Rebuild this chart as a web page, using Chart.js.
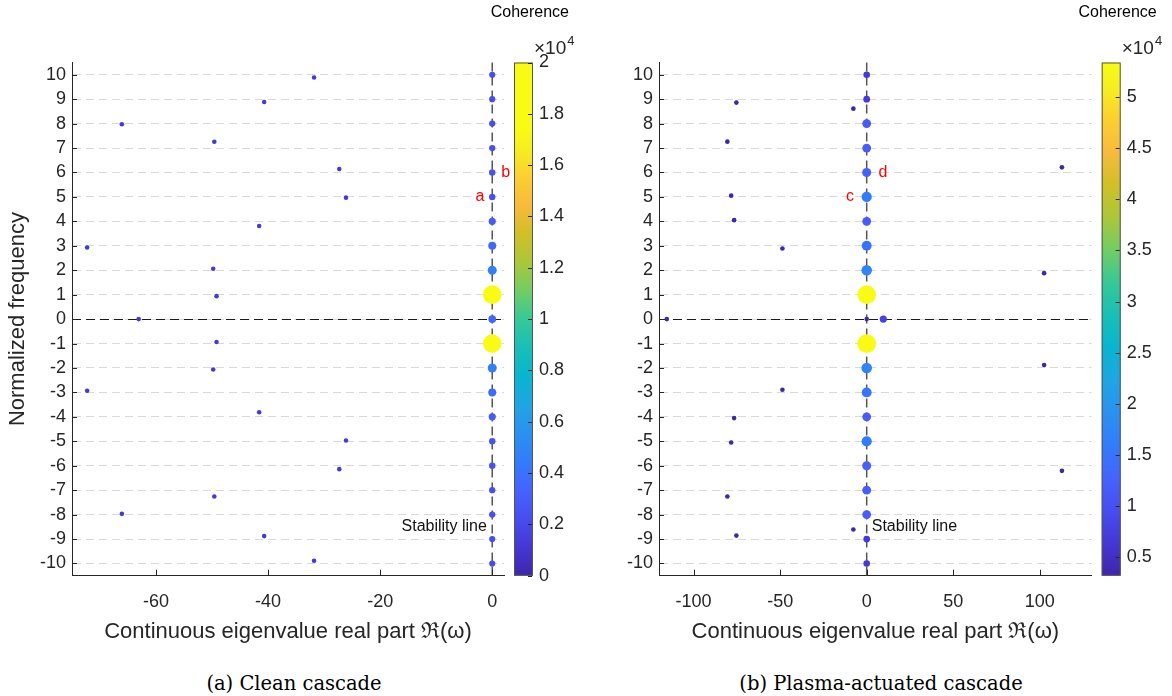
<!DOCTYPE html>
<html>
<head>
<meta charset="utf-8">
<script src="https://cdn.jsdelivr.net/npm/chart.js@4.4.1/dist/chart.umd.min.js"></script>
<style>
  body { margin: 0; background: #fff; }
  #wrap { position: relative; width: 1172px; height: 696px; overflow: hidden; }
  canvas { position: absolute; top: 0; }
  .cap { position: absolute; top: 672px; font-family: "DejaVu Serif", serif; font-size: 19.5px; color: #000;
         transform: translateX(-50%); white-space: nowrap; }
</style>
</head>
<body>
<div id="wrap">
  <canvas id="left" width="590" height="650" style="left:0"></canvas>
  <canvas id="right" width="582" height="650" style="left:590px"></canvas>
  <div class="cap" style="left:294px">(a) Clean cascade</div>
  <div class="cap" style="left:881px">(b) Plasma-actuated cascade</div>
</div>
<script>
// shared tick labels
const Y_TICKS = [-10, -9, -8, -7, -6, -5, -4, -3, -2, -1, 0, 1, 2, 3, 4, 5, 6, 7, 8, 9, 10];

// (a) clean cascade -- coherence in units of 1e4
const A_X_TICKS = [-60, -40, -20, 0];
const A_CB_TICKS = [0, 0.2, 0.4, 0.6, 0.8, 1, 1.2, 1.4, 1.6, 1.8, 2];
const A_X = [
  0, 0, 0, 0, 0, 0, 0, 0, 0, 0, 0, 0, 0, 0, 0, 0, 0, 0, 0, 0, 0,
  -31.8, -40.7, -66.1, -49.6, -27.3, -26.1, -41.6, -72.3, -49.8, -49.2, -63.1,
  -49.2, -49.8, -72.3, -41.6, -26.1, -27.3, -49.6, -66.1, -40.7, -31.8
];
const A_Y = [
  10, 9, 8, 7, 6, 5, 4, 3, 2, 1, 0, -1, -2, -3, -4, -5, -6, -7, -8, -9, -10,
  9.89, 8.88, 7.97, 7.26, 6.14, 4.97, 3.81, 2.93, 2.06, 0.94, 0,
  -0.94, -2.06, -2.93, -3.81, -4.97, -6.14, -7.26, -7.97, -8.88, -9.89
];
const A_C = [
  0.22, 0.22, 0.23, 0.23, 0.24, 0.24, 0.30, 0.37, 0.47, 2.0, 0.35, 2.0, 0.47, 0.37, 0.30, 0.24, 0.24, 0.23, 0.23, 0.22, 0.22,
  0.12, 0.12, 0.12, 0.12, 0.12, 0.12, 0.12, 0.12, 0.12, 0.12, 0.12,
  0.12, 0.12, 0.12, 0.12, 0.12, 0.12, 0.12, 0.12, 0.12, 0.12
];

// (b) plasma-actuated cascade
const B_X_TICKS = [-100, -50, 0, 50, 100];
const B_CB_TICKS = [0.5, 1, 1.5, 2, 2.5, 3, 3.5, 4, 4.5, 5];
const B_X = [
  0, 0, 0, 0, 0, 0, 0, 0, 0, 0, 0, 0, 0, 0, 0, 0, 0, 0, 0, 0, 0, 9.6,
  -75.3, -7.7, -80.5, 112.8, -78.3, -76.6, -48.7, 102.5, -115.5,
  102.5, -48.7, -76.6, -78.3, 112.8, -80.5, -7.7, -75.3
];
const B_Y = [
  10, 9, 8, 7, 6, 5, 4, 3, 2, 1, 0, -1, -2, -3, -4, -5, -6, -7, -8, -9, -10, 0,
  8.86, 8.61, 7.26, 6.21, 5.05, 4.05, 2.89, 1.88, 0,
  -1.88, -2.89, -4.05, -5.05, -6.21, -7.26, -8.61, -8.86
];
const B_C = [
  0.67, 0.70, 1.19, 1.19, 1.25, 1.60, 1.19, 1.50, 1.72, 5.34, 0.32, 5.34, 1.72, 1.50, 1.19, 1.60, 1.25, 1.19, 1.19, 0.70, 0.67, 0.80,
  0.33, 0.33, 0.33, 0.33, 0.33, 0.33, 0.33, 0.33, 0.33,
  0.33, 0.33, 0.33, 0.33, 0.33, 0.33, 0.33, 0.33
];

// parula colormap stops [t, r, g, b]
const PARULA = [
  [0 / 63, 62, 38, 168], [4 / 63, 69, 55, 213], [8 / 63, 72, 77, 240], [12 / 63, 69, 99, 253],
  [16 / 63, 50, 124, 252], [20 / 63, 43, 145, 239], [24 / 63, 32, 165, 227], [28 / 63, 8, 181, 208],
  [32 / 63, 25, 191, 182], [36 / 63, 55, 200, 151], [40 / 63, 114, 205, 100], [44 / 63, 171, 199, 57],
  [48 / 63, 209, 191, 39], [52 / 63, 248, 186, 61], [56 / 63, 252, 207, 48], [60 / 63, 246, 239, 32],
  [63 / 63, 249, 251, 21]
];

function parula(t) {
  t = Math.min(1, Math.max(0, t));
  for (let i = 1; i < PARULA.length; i++) {
    if (t <= PARULA[i][0]) {
      const p = PARULA[i - 1], q = PARULA[i];
      const f = (t - p[0]) / (q[0] - p[0]);
      return 'rgb(' + [1, 2, 3].map(k => Math.round(p[k] + f * (q[k] - p[k]))).join(',') + ')';
    }
  }
  return 'rgb(249,251,21)';
}

const FONT = '"Liberation Sans", Arial, sans-serif';
const INK = '#262626';

const decor = {
  id: 'decor',
  beforeDatasetsDraw(chart) {
    const { ctx, chartArea: a, scales: { x, y } } = chart;
    ctx.save();
    const y0 = Math.round(y.getPixelForValue(0)) + 0.5;
    ctx.setLineDash([9, 5]);
    ctx.strokeStyle = '#1a1a1a';
    ctx.lineWidth = 1;
    ctx.beginPath(); ctx.moveTo(a.left, y0); ctx.lineTo(a.right, y0); ctx.stroke();
    const x0 = x.getPixelForValue(0);
    ctx.strokeStyle = '#555';
    ctx.lineWidth = 1.5;
    ctx.beginPath(); ctx.moveTo(x0, a.top); ctx.lineTo(x0, a.bottom); ctx.stroke();
    ctx.restore();
  },
  afterDraw(chart, args, o) {
    const { ctx, chartArea: a, scales: { x, y, cb } } = chart;
    ctx.save();
    // inward tick marks
    ctx.strokeStyle = INK;
    ctx.lineWidth = 1;
    ctx.beginPath();
    x.ticks.forEach(t => {
      const px = Math.round(x.getPixelForValue(t.value)) + 0.5;
      ctx.moveTo(px, a.bottom); ctx.lineTo(px, a.bottom - 6);
    });
    y.ticks.forEach(t => {
      const py = Math.round(y.getPixelForValue(t.value)) + 0.5;
      ctx.moveTo(a.left, py); ctx.lineTo(a.left + 5, py);
    });
    ctx.stroke();

    // colorbar (colour limits may be narrower than the bar's axis)
    const bx = a.right + 10, bw = 19;
    const g = ctx.createLinearGradient(0, a.bottom, 0, a.top);
    const span = cb.max - cb.min;
    PARULA.forEach(s => {
      const pos = (o.lo + s[0] * (o.hi - o.lo) - cb.min) / span;
      if (pos >= 0 && pos <= 1) g.addColorStop(pos, `rgb(${s[1]},${s[2]},${s[3]})`);
    });
    if (o.hi < cb.max) g.addColorStop(1, 'rgb(249,251,21)');
    ctx.fillStyle = g;
    ctx.fillRect(bx, a.top, bw, a.bottom - a.top);
    ctx.strokeStyle = '#555';
    ctx.strokeRect(bx + 0.5, a.top + 0.5, bw - 1, a.bottom - a.top - 1);
    ctx.strokeStyle = INK;
    ctx.beginPath();
    cb.ticks.forEach(t => {
      const py = Math.round(cb.getPixelForValue(t.value)) + 0.5;
      ctx.moveTo(bx + bw - 1, py); ctx.lineTo(bx + bw - 5, py);
    });
    ctx.stroke();

    ctx.fillStyle = '#000';
    ctx.font = '16px ' + FONT;
    ctx.textAlign = 'right';
    ctx.textBaseline = 'alphabetic';
    ctx.fillText('Coherence', bx + 55, 17);
    ctx.fillStyle = INK;
    ctx.textAlign = 'left';
    ctx.font = '19px ' + FONT;
    ctx.fillText('\u00d710', bx + 20, 54);
    const w = ctx.measureText('\u00d710').width;
    ctx.font = '13px ' + FONT;
    ctx.fillText('4', bx + 21 + w, 45);

    // notes
    o.notes.forEach(n => {
      ctx.fillStyle = n.color;
      ctx.font = n.size + 'px ' + FONT;
      ctx.textAlign = n.align;
      ctx.textBaseline = 'middle';
      ctx.fillText(n.text, x.getPixelForValue(n.x), y.getPixelForValue(n.y));
    });
    ctx.restore();
  }
};

function makeChart(id, p) {
  const pts = p.xs.map((v, i) => ({ x: v, y: p.ys[i], c: p.cs[i] }));
  const col = c => parula((c - p.lo) / (p.hi - p.lo));
  return new Chart(document.getElementById(id), {
    type: 'scatter',
    data: {
      datasets: [{
        data: pts,
        pointRadius: ctx => p.k * Math.sqrt(ctx.raw.c),
        pointBackgroundColor: ctx => col(ctx.raw.c),
        pointBorderColor: ctx => col(ctx.raw.c),
        pointBorderWidth: 0
      }]
    },
    options: {
      responsive: false,
      animation: false,
      layout: { padding: { top: 62.5, left: 0, right: 0, bottom: 0 } },
      plugins: {
        legend: { display: false }, tooltip: { enabled: false },
        decor: { notes: p.notes, lo: p.lo, hi: p.hi }
      },
      scales: {
        x: {
          type: 'linear', position: 'bottom', min: p.xmin, max: p.xmax,
          afterBuildTicks: s => { s.ticks = p.xticks.map(v => ({ value: v })); },
          afterFit: s => { s.height = 74.3; },
          grid: { display: false, drawTicks: false },
          border: { display: true, color: INK, width: 1 },
          ticks: { font: { family: FONT, size: 18 }, color: INK, padding: 16, maxRotation: 0, autoSkip: false,
                   callback: v => String(v) },
          title: { display: true, text: 'Continuous eigenvalue real part \u211c(\u03c9)',
                   font: { family: FONT, size: 22 }, color: INK, padding: { top: 0, bottom: 4.8 } }
        },
        y: {
          type: 'linear', position: 'left', min: -10.5, max: 10.5,
          afterBuildTicks: s => { s.ticks = Y_TICKS.map(v => ({ value: v })); },
          afterFit: s => { s.width = p.yw; },
          grid: { color: '#d9d9d9', lineWidth: 1, drawTicks: false },
          border: { display: true, color: INK, width: 1, dash: [8, 5] },
          ticks: { font: { family: FONT, size: 18 }, color: INK, padding: 6, autoSkip: false,
                   callback: v => String(v) },
          title: { display: p.ytitle, text: 'Normalized frequency',
                   font: { family: FONT, size: 22 }, color: INK, padding: { top: 5, bottom: 0 } }
        },
        cb: {
          type: 'linear', position: 'right', min: p.cmin, max: p.cmax,
          afterBuildTicks: s => { s.ticks = p.cbticks.map(v => ({ value: v })); },
          afterFit: s => { s.width = p.cbw; },
          grid: { display: false, drawTicks: false },
          border: { display: false },
          ticks: { font: { family: FONT, size: 18 }, color: INK, padding: 35, autoSkip: false,
                   callback: v => String(v) }
        }
      }
    },
    plugins: [decor]
  });
}

makeChart('left', {
  xs: A_X, ys: A_Y, cs: A_C, cmin: 0, cmax: 2, lo: 0, hi: 1.75, k: 6.58,
  xmin: -75, xmax: 2.1, xticks: A_X_TICKS, cbticks: A_CB_TICKS,
  yw: 72, cbw: 86, ytitle: true,
  notes: [
    { text: 'a', x: -2.2, y: 5, color: 'red', size: 16, align: 'center' },
    { text: 'b', x: 2.4, y: 6, color: 'red', size: 16, align: 'center' },
    { text: 'Stability line', x: -0.95, y: -8.5, color: '#111', size: 16, align: 'right' }
  ]
});

makeChart('right', {
  xs: B_X, ys: B_Y, cs: B_C, cmin: 0.317, cmax: 5.34, lo: 0.317, hi: 5.34, k: 4.04,
  xmin: -120, xmax: 130, xticks: B_X_TICKS, cbticks: B_CB_TICKS,
  yw: 69, cbw: 80.3, ytitle: false,
  notes: [
    { text: 'c', x: -9.6, y: 5, color: 'red', size: 16, align: 'center' },
    { text: 'd', x: 9.4, y: 6, color: 'red', size: 16, align: 'center' },
    { text: 'Stability line', x: 2.9, y: -8.5, color: '#111', size: 16, align: 'left' }
  ]
});
</script>
</body>
</html>
